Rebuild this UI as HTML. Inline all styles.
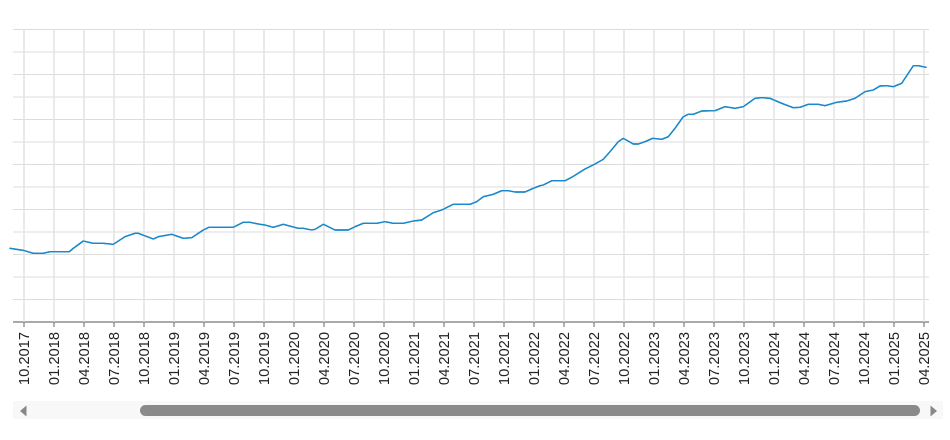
<!DOCTYPE html>
<html>
<head>
<meta charset="utf-8">
<style>
  html, body { margin: 0; padding: 0; background: #ffffff; }
  body { width: 950px; height: 440px; overflow: hidden; }
  svg { display: block; }
  text { font-family: "Liberation Sans", Arial, sans-serif; font-size: 14.7px; fill: #222; }
</style>
</head>
<body>
<svg width="950" height="440" viewBox="0 0 950 440" xmlns="http://www.w3.org/2000/svg">
  <rect x="0" y="0" width="950" height="440" fill="#ffffff"/>
  <!-- horizontal grid -->
  <g stroke="#dcdcdc" stroke-width="1">
    <line x1="13" y1="29.5" x2="929" y2="29.5"/>
    <line x1="13" y1="52" x2="929" y2="52"/>
    <line x1="13" y1="74.5" x2="929" y2="74.5"/>
    <line x1="13" y1="97" x2="929" y2="97"/>
    <line x1="13" y1="119.5" x2="929" y2="119.5"/>
    <line x1="13" y1="142" x2="929" y2="142"/>
    <line x1="13" y1="164.5" x2="929" y2="164.5"/>
    <line x1="13" y1="187" x2="929" y2="187"/>
    <line x1="13" y1="209.5" x2="929" y2="209.5"/>
    <line x1="13" y1="232" x2="929" y2="232"/>
    <line x1="13" y1="254.5" x2="929" y2="254.5"/>
    <line x1="13" y1="277" x2="929" y2="277"/>
    <line x1="13" y1="299.5" x2="929" y2="299.5"/>
  </g>
  <!-- vertical grid -->
  <g stroke="#e3e3e3" stroke-width="1.5" id="vg"></g>
  <!-- axis -->
  <line x1="13" y1="322" x2="929" y2="322" stroke="#555" stroke-width="1"/>
  <g stroke="#666" stroke-width="1" id="ticks"></g>
  <g id="labels"></g>

  <!-- series -->
  <polyline fill="none" stroke="#1a88c9" stroke-width="1.4" stroke-linejoin="round" stroke-linecap="round"
    points="10,248.3 24,250.5 33.3,253.3 43.3,253.3 50,251.7 69.3,251.7 73.3,248.3 83.3,241 93.3,243.3 103.3,243.3 113.3,244.3 125,236.7 135,233.3 138.3,233.3 153.3,239 158.3,236.7 171.7,234.3 183.3,238.3 191.7,237.7 203.3,230 209,227.3 233.3,227.3 243.3,222.3 250,222.3 260,224.3 265,225 273.3,227.3 283.3,224.3 298.3,228.3 303.3,228.3 311.7,230 315,229.3 323.3,224.3 335,230 348.3,230 355,226.7 363.3,223.3 376.7,223.3 385,221.7 393.3,223.3 403.3,223.3 413.3,221 421.7,220 433.3,212.7 441.7,210 453.3,204.3 470,204.3 476.7,201.7 483.3,196.7 493.3,194.3 501.7,190.7 508.3,190.7 515,192 525,192 533.3,188.3 540,185.7 543.3,185 551.7,180.7 565,180.7 571.7,177.3 585,169 595,164 603.3,159.3 610,151.7 618.3,141.7 623.3,138.3 633.3,144 638.3,144 645,141.7 652.7,138.3 661.7,139.3 668.3,136.7 675,128.3 683.3,116.7 688.3,114.3 693.3,114.3 701.7,111 715,110.7 725,106.7 735,108.3 743.3,106.7 755,98.3 761.7,97.7 770,98.3 781.7,103.3 793.3,107.7 800,107.3 808.3,104.3 818.3,104.3 825,105.7 836.7,102.3 846.7,101 855,98.3 865,91.7 873.3,90 880,86 886.7,85.7 893.3,86.7 901.7,83.3 913.3,65.7 918.3,65.7 926,67.3"/>

  <!-- scrollbar -->
  <rect x="13" y="401" width="930" height="18" fill="#f8f8f8"/>
  <rect x="140" y="405" width="780" height="11" rx="5.5" ry="5.5" fill="#8a8a8a"/>
  <polygon points="20,411 26.5,405.5 26.5,416.5" fill="#888"/>
  <polygon points="937,411 930.5,405.5 930.5,416.5" fill="#888"/>

  <!-- static grid/labels (explicit) -->
  <g stroke="#e3e3e3" stroke-width="1.5">
    <line x1="24" y1="29.5" x2="24" y2="322"/><line x1="54" y1="29.5" x2="54" y2="322"/><line x1="84" y1="29.5" x2="84" y2="322"/><line x1="114" y1="29.5" x2="114" y2="322"/><line x1="144" y1="29.5" x2="144" y2="322"/><line x1="174" y1="29.5" x2="174" y2="322"/><line x1="204" y1="29.5" x2="204" y2="322"/><line x1="234" y1="29.5" x2="234" y2="322"/><line x1="264" y1="29.5" x2="264" y2="322"/><line x1="294" y1="29.5" x2="294" y2="322"/><line x1="324" y1="29.5" x2="324" y2="322"/><line x1="354" y1="29.5" x2="354" y2="322"/><line x1="384" y1="29.5" x2="384" y2="322"/><line x1="414" y1="29.5" x2="414" y2="322"/><line x1="444" y1="29.5" x2="444" y2="322"/><line x1="474" y1="29.5" x2="474" y2="322"/><line x1="504" y1="29.5" x2="504" y2="322"/><line x1="534" y1="29.5" x2="534" y2="322"/><line x1="564" y1="29.5" x2="564" y2="322"/><line x1="594" y1="29.5" x2="594" y2="322"/><line x1="624" y1="29.5" x2="624" y2="322"/><line x1="654" y1="29.5" x2="654" y2="322"/><line x1="684" y1="29.5" x2="684" y2="322"/><line x1="714" y1="29.5" x2="714" y2="322"/><line x1="744" y1="29.5" x2="744" y2="322"/><line x1="774" y1="29.5" x2="774" y2="322"/><line x1="804" y1="29.5" x2="804" y2="322"/><line x1="834" y1="29.5" x2="834" y2="322"/><line x1="864" y1="29.5" x2="864" y2="322"/><line x1="894" y1="29.5" x2="894" y2="322"/><line x1="924" y1="29.5" x2="924" y2="322"/>
  </g>
  <g stroke="#666" stroke-width="1">
    <line x1="24" y1="322" x2="24" y2="327"/><line x1="54" y1="322" x2="54" y2="327"/><line x1="84" y1="322" x2="84" y2="327"/><line x1="114" y1="322" x2="114" y2="327"/><line x1="144" y1="322" x2="144" y2="327"/><line x1="174" y1="322" x2="174" y2="327"/><line x1="204" y1="322" x2="204" y2="327"/><line x1="234" y1="322" x2="234" y2="327"/><line x1="264" y1="322" x2="264" y2="327"/><line x1="294" y1="322" x2="294" y2="327"/><line x1="324" y1="322" x2="324" y2="327"/><line x1="354" y1="322" x2="354" y2="327"/><line x1="384" y1="322" x2="384" y2="327"/><line x1="414" y1="322" x2="414" y2="327"/><line x1="444" y1="322" x2="444" y2="327"/><line x1="474" y1="322" x2="474" y2="327"/><line x1="504" y1="322" x2="504" y2="327"/><line x1="534" y1="322" x2="534" y2="327"/><line x1="564" y1="322" x2="564" y2="327"/><line x1="594" y1="322" x2="594" y2="327"/><line x1="624" y1="322" x2="624" y2="327"/><line x1="654" y1="322" x2="654" y2="327"/><line x1="684" y1="322" x2="684" y2="327"/><line x1="714" y1="322" x2="714" y2="327"/><line x1="744" y1="322" x2="744" y2="327"/><line x1="774" y1="322" x2="774" y2="327"/><line x1="804" y1="322" x2="804" y2="327"/><line x1="834" y1="322" x2="834" y2="327"/><line x1="864" y1="322" x2="864" y2="327"/><line x1="894" y1="322" x2="894" y2="327"/><line x1="924" y1="322" x2="924" y2="327"/>
  </g>
  <g text-anchor="end">
    <text transform="translate(29.2,332) rotate(-90)">10.2017</text>
    <text transform="translate(59.2,332) rotate(-90)">01.2018</text>
    <text transform="translate(89.2,332) rotate(-90)">04.2018</text>
    <text transform="translate(119.2,332) rotate(-90)">07.2018</text>
    <text transform="translate(149.2,332) rotate(-90)">10.2018</text>
    <text transform="translate(179.2,332) rotate(-90)">01.2019</text>
    <text transform="translate(209.2,332) rotate(-90)">04.2019</text>
    <text transform="translate(239.2,332) rotate(-90)">07.2019</text>
    <text transform="translate(269.2,332) rotate(-90)">10.2019</text>
    <text transform="translate(299.2,332) rotate(-90)">01.2020</text>
    <text transform="translate(329.2,332) rotate(-90)">04.2020</text>
    <text transform="translate(359.2,332) rotate(-90)">07.2020</text>
    <text transform="translate(389.2,332) rotate(-90)">10.2020</text>
    <text transform="translate(419.2,332) rotate(-90)">01.2021</text>
    <text transform="translate(449.2,332) rotate(-90)">04.2021</text>
    <text transform="translate(479.2,332) rotate(-90)">07.2021</text>
    <text transform="translate(509.2,332) rotate(-90)">10.2021</text>
    <text transform="translate(539.2,332) rotate(-90)">01.2022</text>
    <text transform="translate(569.2,332) rotate(-90)">04.2022</text>
    <text transform="translate(599.2,332) rotate(-90)">07.2022</text>
    <text transform="translate(629.2,332) rotate(-90)">10.2022</text>
    <text transform="translate(659.2,332) rotate(-90)">01.2023</text>
    <text transform="translate(689.2,332) rotate(-90)">04.2023</text>
    <text transform="translate(719.2,332) rotate(-90)">07.2023</text>
    <text transform="translate(749.2,332) rotate(-90)">10.2023</text>
    <text transform="translate(779.2,332) rotate(-90)">01.2024</text>
    <text transform="translate(809.2,332) rotate(-90)">04.2024</text>
    <text transform="translate(839.2,332) rotate(-90)">07.2024</text>
    <text transform="translate(869.2,332) rotate(-90)">10.2024</text>
    <text transform="translate(899.2,332) rotate(-90)">01.2025</text>
    <text transform="translate(929.2,332) rotate(-90)">04.2025</text>
  </g>
  <!-- redraw series on top of grid -->
  <polyline fill="none" stroke="#1a88c9" stroke-width="1.4" stroke-linejoin="round" stroke-linecap="round"
    points="10,248.3 24,250.5 33.3,253.3 43.3,253.3 50,251.7 69.3,251.7 73.3,248.3 83.3,241 93.3,243.3 103.3,243.3 113.3,244.3 125,236.7 135,233.3 138.3,233.3 153.3,239 158.3,236.7 171.7,234.3 183.3,238.3 191.7,237.7 203.3,230 209,227.3 233.3,227.3 243.3,222.3 250,222.3 260,224.3 265,225 273.3,227.3 283.3,224.3 298.3,228.3 303.3,228.3 311.7,230 315,229.3 323.3,224.3 335,230 348.3,230 355,226.7 363.3,223.3 376.7,223.3 385,221.7 393.3,223.3 403.3,223.3 413.3,221 421.7,220 433.3,212.7 441.7,210 453.3,204.3 470,204.3 476.7,201.7 483.3,196.7 493.3,194.3 501.7,190.7 508.3,190.7 515,192 525,192 533.3,188.3 540,185.7 543.3,185 551.7,180.7 565,180.7 571.7,177.3 585,169 595,164 603.3,159.3 610,151.7 618.3,141.7 623.3,138.3 633.3,144 638.3,144 645,141.7 652.7,138.3 661.7,139.3 668.3,136.7 675,128.3 683.3,116.7 688.3,114.3 693.3,114.3 701.7,111 715,110.7 725,106.7 735,108.3 743.3,106.7 755,98.3 761.7,97.7 770,98.3 781.7,103.3 793.3,107.7 800,107.3 808.3,104.3 818.3,104.3 825,105.7 836.7,102.3 846.7,101 855,98.3 865,91.7 873.3,90 880,86 886.7,85.7 893.3,86.7 901.7,83.3 913.3,65.7 918.3,65.7 926,67.3"/>
</svg>
</body>
</html>
